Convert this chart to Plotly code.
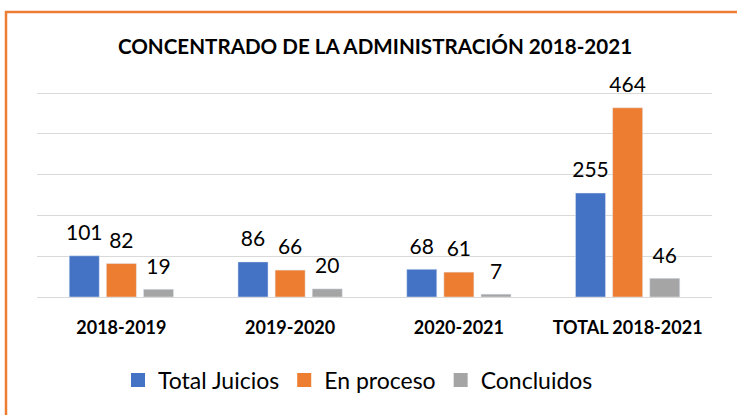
import plotly.graph_objects as go

categories = ["2018-2019", "2019-2020", "2020-2021", "TOTAL 2018-2021"]
total_juicios = [101, 86, 68, 255]
en_proceso = [82, 66, 61, 464]
concluidos = [19, 20, 7, 46]
series_names = ["Total Juicios", "En proceso", "Concluidos"]
colors = ["#4472C4", "#ED7D31", "#A5A5A5"]

FONT = "Lato"
BARGAP = 0.34
fig = go.Figure()
for i, (name, vals, col) in enumerate(zip(series_names, [total_juicios, en_proceso, concluidos], colors)):
    fig.add_trace(go.Bar(
        name=name, x=categories, y=vals, marker_color=col,
        offsetgroup=str(i), showlegend=False, hoverinfo="skip",
    ))
for i, (name, vals, col) in enumerate(zip(series_names, [total_juicios, en_proceso, concluidos], colors)):
    fig.add_trace(go.Scatter(
        name=name, x=categories, y=vals, mode="markers+text",
        offsetgroup=str(i), showlegend=False, hoverinfo="skip",
        marker=dict(size=15, color=col, opacity=0),
        text=[str(v) for v in vals], textposition="top center",
        textfont=dict(family=FONT, size=21, color="#000000"),
        cliponaxis=False,
    ))
for name, col in zip(series_names, colors):
    fig.add_trace(go.Scatter(
        name=name, x=[None], y=[None], mode="markers",
        marker=dict(symbol="square", size=14, color=col),
    ))

W, H = 737, 415
YMAX = 510
ml, mr, mt, mb = 37, 25, 89, 118
pw, ph = W - ml - mr, H - mt - mb

def px_x(x):
    return (x - ml) / pw

def px_y(y):
    return (H - mb - y) / ph

fig.update_layout(
    width=W, height=H,
    margin=dict(l=ml, r=mr, t=mt, b=mb, autoexpand=False),
    paper_bgcolor="white", plot_bgcolor="white",
    barmode="group", bargap=BARGAP, bargroupgap=0.19,
    scattermode="group", scattergap=BARGAP,
    title=dict(text="<b>CONCENTRADO DE LA ADMINISTRACIÓN 2018-2021</b>",
               x=px_x(375), xanchor="center", xref="paper",
               y=1 - 47 / H, yanchor="middle",
               font=dict(family=FONT, size=20.6, color="#000000")),
    xaxis=dict(showgrid=False, showline=False, ticks="",
               tickfont=dict(family=FONT, size=18, color="#000000"),
               tickprefix="<b>", ticksuffix="</b>", ticklabelstandoff=18),
    yaxis=dict(range=[0, YMAX], tickvals=[0, 100, 200, 300, 400, 500], showticklabels=False,
               gridcolor="#D9D9D9", gridwidth=1, zeroline=True,
               zerolinecolor="#D9D9D9", zerolinewidth=1, showline=False),
    legend=dict(orientation="h", x=px_x(358), xanchor="center",
                y=px_y(380), yanchor="middle",
                font=dict(family=FONT, size=23, color="#000000"),
                itemwidth=30, tracegroupgap=0),
    showlegend=True,
    shapes=[dict(type="rect", xref="paper", yref="paper",
                 x0=px_x(6), x1=px_x(760), y0=px_y(440), y1=px_y(12),
                 line=dict(color="#ED7D31", width=2.5), layer="below")],
)

fig.write_html("out.html", config={"displayModeBar": False},
               post_script="document.body.style.margin='0';document.body.style.padding='0';")
